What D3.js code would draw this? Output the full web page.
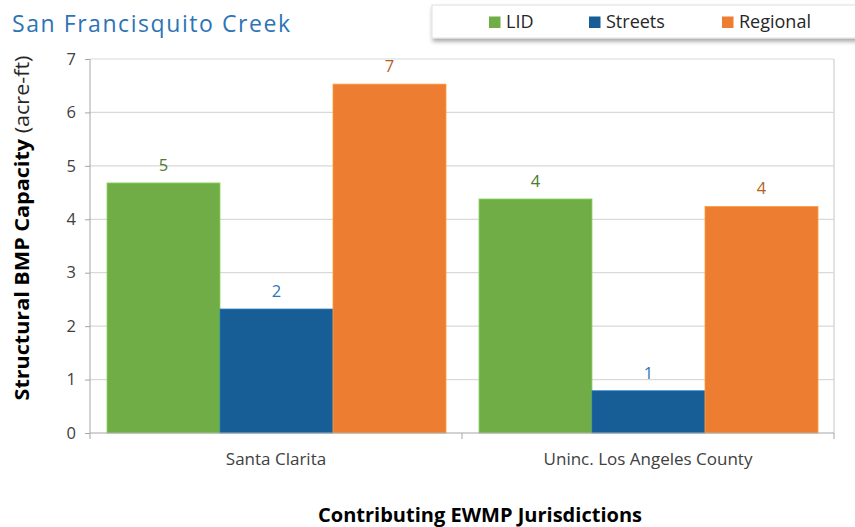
<!DOCTYPE html>
<html><head><meta charset="utf-8">
<script src="https://cdn.jsdelivr.net/npm/d3@7"></script>
<style>body{margin:0;background:#fff;}svg{display:block;}</style>
</head><body>
<svg id="c" width="855" height="527"></svg>
<script>
const categories = ["Santa Clarita", "Uninc. Los Angeles County"];
const seriesNames = ["LID", "Streets", "Regional"];
const lidValues = [4.68, 4.38];
const streetsValues = [2.32, 0.79];
const regionalValues = [6.53, 4.24];
const yTicks = [0, 1, 2, 3, 4, 5, 6, 7];
const colors = ["#70ad47", "#175e96", "#ed7d31"];
const labelColors = ["#4e7a2e", "#2e75b6", "#b5601f"];

const series = [lidValues, streetsValues, regionalValues];
const svg = d3.select("#c");
const font = "'Open Sans', 'Liberation Sans', sans-serif";
const L = 90, R = 834, T = 59, B = 433;

const x0 = d3.scaleBand().domain(categories).range([L, R]).paddingInner(0).paddingOuter(0);
const x1 = d3.scaleBand().domain(seriesNames).range([17, x0.bandwidth() - 16]).padding(0);
const y = d3.scaleLinear().domain([0, 7]).range([B, T]);

// gridlines
svg.append("g").selectAll("line").data(yTicks.filter(d => d > 0)).join("line")
  .attr("x1", L).attr("x2", R).attr("y1", d => y(d)).attr("y2", d => y(d))
  .attr("stroke", "#d9d9d9").attr("stroke-width", 1.2);
// right border
svg.append("line").attr("x1", R).attr("x2", R).attr("y1", T).attr("y2", B)
  .attr("stroke", "#d9d9d9").attr("stroke-width", 1.5);

// bars
categories.forEach((c, ci) => {
  series.forEach((vals, si) => {
    svg.append("rect")
      .attr("x", x0(c) + x1(seriesNames[si]))
      .attr("y", y(vals[ci]))
      .attr("width", x1.bandwidth())
      .attr("height", B - y(vals[ci]))
      .attr("fill", colors[si])
      .attr("stroke", d3.color(colors[si]).brighter(0.6))
      .attr("stroke-width", 0.8);
    svg.append("text")
      .attr("x", x0(c) + x1(seriesNames[si]) + x1.bandwidth() / 2)
      .attr("y", y(vals[ci]) - 12)
      .attr("text-anchor", "middle")
      .attr("font-family", font).attr("font-size", 16.5)
      .attr("fill", labelColors[si])
      .text(d3.format(".0f")(vals[ci]));
  });
});

// y axis
const yAxis = svg.append("g").attr("transform", `translate(${L},0)`)
  .call(d3.axisLeft(y).tickValues(yTicks).tickSize(5).tickPadding(9).tickFormat(d3.format("d")));
yAxis.select(".domain").attr("stroke", "#a6a6a6").attr("d", `M0,${T}V${B}`);
yAxis.selectAll(".tick line").attr("stroke", "#a6a6a6");
yAxis.selectAll("text").attr("font-family", font).attr("font-size", 16.5).attr("fill", "#404040");

// x axis
const xAxis = svg.append("g").attr("transform", `translate(0,${B})`)
  .call(d3.axisBottom(x0).tickSize(0).tickPadding(20));
xAxis.select(".domain").attr("stroke", "#a6a6a6").attr("d", `M${L},0H${R}`);
xAxis.selectAll("text").attr("font-family", font).attr("font-size", 17).attr("fill", "#404040");
svg.append("g").selectAll("line").data([L, x0(categories[1]), R]).join("line")
  .attr("x1", d => d).attr("x2", d => d).attr("y1", B).attr("y2", B + 6)
  .attr("stroke", "#a6a6a6");

// title
svg.append("text").attr("x", 12).attr("y", 32)
  .attr("font-family", font).attr("font-size", 23).attr("fill", "#2e74b5")
  .attr("textLength", 278).text("San Francisquito Creek");

// y axis title
const yt = svg.append("text").attr("transform", "translate(29,228) rotate(-90)")
  .attr("text-anchor", "middle").attr("font-family", font).attr("font-size", 19.5).attr("fill", "#000")
  .attr("textLength", 345).attr("lengthAdjust", "spacingAndGlyphs");
yt.append("tspan").attr("font-weight", "bold").text("Structural BMP Capacity ");
yt.append("tspan").attr("fill", "#262626").text("(acre-ft)");

// x axis title
svg.append("text").attr("x", 480).attr("y", 522).attr("text-anchor", "middle")
  .attr("font-family", font).attr("font-size", 19).attr("font-weight", "bold").attr("fill", "#000")
  .attr("textLength", 324).attr("lengthAdjust", "spacingAndGlyphs")
  .text("Contributing EWMP Jurisdictions");

// legend
const defs = svg.append("defs");
const f = defs.append("filter").attr("id", "sh").attr("x", "-5%").attr("y", "-30%").attr("width", "110%").attr("height", "180%");
f.append("feDropShadow").attr("dx", 1).attr("dy", 3).attr("stdDeviation", 2).attr("flood-color", "#000").attr("flood-opacity", 0.35);
svg.append("rect").attr("x", 432).attr("y", 5).attr("width", 440).attr("height", 33)
  .attr("fill", "#fff").attr("stroke", "#e0e0e0").attr("filter", "url(#sh)");
const legX = [489, 589, 722];
seriesNames.forEach((n, i) => {
  svg.append("rect").attr("x", legX[i]).attr("y", 16.5).attr("width", 11.5).attr("height", 11.5).attr("fill", colors[i]);
  svg.append("text").attr("x", legX[i] + 17).attr("y", 28)
    .attr("font-family", font).attr("font-size", 18).attr("fill", "#262626").text(n);
});
</script>
</body></html>
